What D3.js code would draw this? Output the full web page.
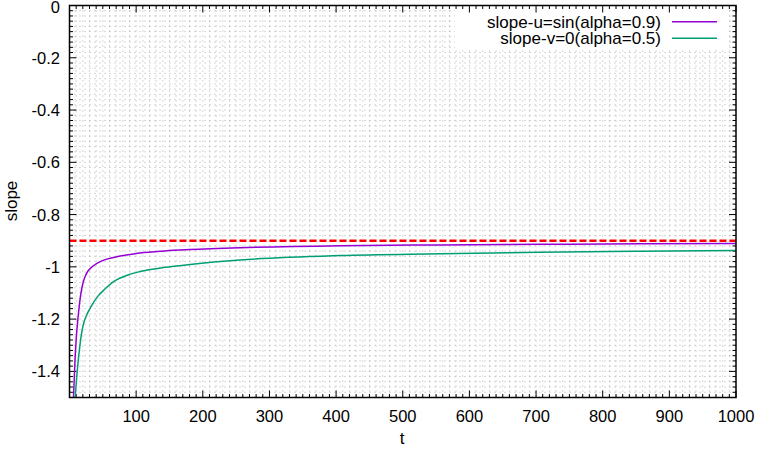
<!DOCTYPE html>
<html>
<head>
<meta charset="utf-8">
<script src="https://cdn.jsdelivr.net/npm/d3@7"></script>
<style>
body { margin: 0; background: white; }
text { font-family: "Liberation Sans", Arial, sans-serif; font-size: 17px; fill: black; }
text.tick { font-size: 16.5px; }
</style>
</head>
<body>
<div id="chart"></div>
<script>
// values
var tU = [4.6, 6.0, 8.25, 10.5, 12.75, 15.0, 17.25, 20.25, 25.2, 35.3, 47.7, 67.8, 87.8, 105.8, 143.3, 180.8, 256, 406, 556, 706, 856, 1000];
var slopeU = [-1.6, -1.498, -1.357, -1.261, -1.196, -1.142, -1.100, -1.062, -1.027, -0.997, -0.978, -0.963, -0.954, -0.947, -0.939, -0.934, -0.927, -0.919, -0.916, -0.914, -0.912, -0.911];
var tV = [7.6, 8.7, 10.5, 12.75, 15.0, 17.25, 20.25, 25.2, 32.7, 42.8, 52.8, 67.8, 87.8, 105.8, 143.3, 180.8, 255.8, 405.8, 555.9, 705.9, 856, 1000];
var slopeV = [-1.56, -1.498, -1.433, -1.368, -1.314, -1.269, -1.226, -1.188, -1.150, -1.112, -1.086, -1.054, -1.031, -1.018, -1.002, -0.991, -0.974, -0.957, -0.950, -0.944, -0.940, -0.937];
var refSlope = -0.9;
var seriesNames = ["slope-u=sin(alpha=0.9)", "slope-v=0(alpha=0.5)"];
var seriesColors = ["#9400d3", "#009e73"];
var xTicks = [100, 200, 300, 400, 500, 600, 700, 800, 900, 1000];
var yTicks = [0, -0.2, -0.4, -0.6, -0.8, -1, -1.2, -1.4];

var W = 757, H = 449;
// plot box (note: "top" is taken by window.top, so use px names)
var pxL = 69.5, pxR = 736, pxT = 5.5, pxB = 397.5;

var svg = d3.select("#chart").append("svg").attr("width", W).attr("height", H);

var x = d3.scaleLinear().domain([0, 1000]).range([pxL, pxR]);
var y = d3.scaleLinear().domain([0, -1.5]).range([pxT, pxB]);

// minor grid (every 10 on t, every 0.02 on slope)
var xMinor = d3.range(0, 1001, 10);
var yMinor = d3.range(0, 76).map(function(i) { return -i * 0.02; });

var grid = svg.append("g");
grid.selectAll("line.gx").data(xMinor.slice(1, -1)).enter().append("line")
    .attr("x1", function(d) { return x(d); }).attr("x2", function(d) { return x(d); })
    .attr("y1", pxT).attr("y2", pxB)
    .attr("stroke", "#999").attr("stroke-width", 0.8).attr("stroke-dasharray", "1,4");
grid.selectAll("line.gy").data(yMinor.slice(1, -1)).enter().append("line")
    .attr("y1", function(d) { return y(d); }).attr("y2", function(d) { return y(d); })
    .attr("x1", pxL).attr("x2", pxR)
    .attr("stroke", "#999").attr("stroke-width", 0.8).attr("stroke-dasharray", "1,4");

// white box behind the key
svg.append("rect").attr("x", 455).attr("y", pxT + 1).attr("width", 274).attr("height", 43)
    .attr("fill", "white");

// ticks on all four sides, pointing inward
var ticks = svg.append("g").attr("stroke", "black").attr("stroke-width", 1);
xMinor.forEach(function(d) {
    var len = (d % 100 == 0) ? 7 : 3.5;
    ticks.append("line").attr("x1", x(d)).attr("x2", x(d)).attr("y1", pxB).attr("y2", pxB - len);
    ticks.append("line").attr("x1", x(d)).attr("x2", x(d)).attr("y1", pxT).attr("y2", pxT + len);
});
yMinor.forEach(function(d, i) {
    var len = (i % 10 == 0) ? 7 : 3.5;
    ticks.append("line").attr("y1", y(d)).attr("y2", y(d)).attr("x1", pxL).attr("x2", pxL + len);
    ticks.append("line").attr("y1", y(d)).attr("y2", y(d)).attr("x1", pxR).attr("x2", pxR - len);
});

svg.selectAll("text.xt").data(xTicks).enter().append("text").attr("class", "tick")
    .attr("x", function(d) { return x(d); }).attr("y", 422)
    .attr("text-anchor", "middle").text(function(d) { return d; });
// the top label would poke out of the window, keep it just inside
svg.selectAll("text.yt").data(yTicks).enter().append("text").attr("class", "tick")
    .attr("x", 60).attr("y", function(d) { return Math.max(y(d) + 6, 12.8); })
    .attr("text-anchor", "end").text(function(d) { return d; });

svg.append("text").attr("x", 402).attr("y", 444).attr("text-anchor", "middle").text("t");
svg.append("text").attr("transform", "translate(17,201) rotate(-90)")
    .attr("text-anchor", "middle").text("slope");

// clipped plot content
svg.append("clipPath").attr("id", "clip").append("rect")
    .attr("x", pxL).attr("y", pxT).attr("width", pxR - pxL).attr("height", pxB - pxT);
var plot = svg.append("g").attr("clip-path", "url(#clip)");

plot.append("line").attr("x1", pxL).attr("x2", pxR)
    .attr("y1", y(refSlope)).attr("y2", y(refSlope))
    .attr("stroke", "#ff0000").attr("stroke-width", 2.6).attr("stroke-dasharray", "7,3");

var line = d3.line()
    .x(function(d) { return x(d[0]); })
    .y(function(d) { return y(d[1]); })
    .curve(d3.curveMonotoneX);

var series = [d3.zip(tU, slopeU), d3.zip(tV, slopeV)];
series.forEach(function(s, i) {
    plot.append("path").attr("d", line(s)).attr("fill", "none")
        .attr("stroke", seriesColors[i]).attr("stroke-width", 1.5);
});

// key
seriesNames.forEach(function(name, i) {
    var ky = 21.7 + i * 16.6;
    svg.append("text").attr("x", 661).attr("y", ky + 6).attr("text-anchor", "end").text(name);
    svg.append("line").attr("x1", 672).attr("x2", 717).attr("y1", ky).attr("y2", ky)
        .attr("stroke", seriesColors[i]).attr("stroke-width", 1.5);
});

// border
svg.append("rect").attr("x", pxL).attr("y", pxT).attr("width", pxR - pxL).attr("height", pxB - pxT)
    .attr("fill", "none").attr("stroke", "black").attr("stroke-width", 1.5);
</script>
</body>
</html>
